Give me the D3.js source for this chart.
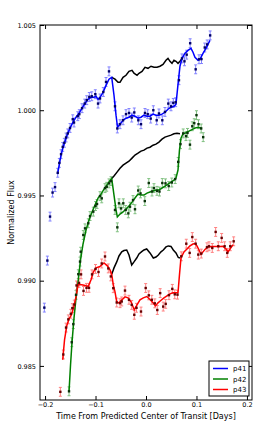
<!DOCTYPE html>
<html>
<head>
<meta charset="utf-8">
<script src="https://cdn.jsdelivr.net/npm/d3@7"></script>
<style>
  body { margin: 0; background: #fff; }
  text { font-family: "DejaVu Sans", sans-serif; }
</style>
</head>
<body>
<svg id="chart" width="266" height="426"></svg>
<script>
// observed points [time, flux]
const p41Obs = [
  [-0.2014, 0.98842], [-0.1954, 0.99118], [-0.1901, 0.99376], [-0.1851, 0.99517], [-0.1802, 0.99549],
  [-0.1749, 0.99633], [-0.1717, 0.99691], [-0.1683, 0.99742], [-0.1650, 0.99785], [-0.1618, 0.99809],
  [-0.1584, 0.99840], [-0.1550, 0.99864], [-0.1505, 0.99896], [-0.1451, 0.99947], [-0.1426, 0.99928],
  [-0.1352, 0.99965], [-0.1321, 0.99977], [-0.1267, 1.00012], [-0.1214, 1.00039], [-0.1174, 1.00059],
  [-0.1123, 1.00078], [-0.1075, 1.00082], [-0.1004, 1.00094], [-0.0950, 1.00039], [-0.0911, 1.00069],
  [-0.0846, 1.00107], [-0.0792, 1.00166], [-0.0733, 1.00228], [-0.0614, 1.00023], [-0.0568, 0.99893],
  [-0.0515, 0.99918], [-0.0455, 0.99941], [-0.0396, 0.99977], [-0.0337, 0.99984], [-0.0283, 0.99957],
  [-0.0232, 0.99987], [-0.0152, 0.99941], [-0.0099, 0.99918], [-0.0020, 0.99984], [0.0034, 0.99977],
  [0.0093, 0.99951], [0.0145, 1.00000], [0.0212, 0.99941], [0.0257, 0.99981], [0.0323, 0.99941],
  [0.0376, 0.99990], [0.0442, 1.00039], [0.0495, 1.00023], [0.0541, 1.00043], [0.0588, 1.00047],
  [0.0653, 1.00176], [0.0713, 1.00304], [0.0762, 1.00287], [0.0806, 1.00326], [0.0875, 1.00393],
  [0.0984, 1.00240], [0.1050, 1.00299], [0.1099, 1.00300], [0.1164, 1.00368], [0.1212, 1.00386],
  [0.1271, 1.00439]
];
const p42Obs = [
  [-0.1525, 0.98351], [-0.1471, 0.98639], [-0.1440, 0.98745], [-0.1386, 0.98917], [-0.1341, 0.99038],
  [-0.1307, 0.99112], [-0.1293, 0.99170], [-0.1242, 0.99268], [-0.1208, 0.99307], [-0.1143, 0.99337],
  [-0.1109, 0.99379], [-0.1044, 0.99405], [-0.1000, 0.99438], [-0.0970, 0.99450], [-0.0911, 0.99496],
  [-0.0877, 0.99483], [-0.0812, 0.99543], [-0.0778, 0.99551], [-0.0733, 0.99571], [-0.0693, 0.99584],
  [-0.0614, 0.99415], [-0.0568, 0.99313], [-0.0535, 0.99454], [-0.0495, 0.99424], [-0.0450, 0.99454],
  [-0.0402, 0.99415], [-0.0350, 0.99395], [-0.0317, 0.99434], [-0.0257, 0.99473], [-0.0218, 0.99419],
  [-0.0154, 0.99529], [-0.0109, 0.99512], [-0.0024, 0.99467], [0.0055, 0.99573], [0.0119, 0.99523],
  [0.0158, 0.99543], [0.0218, 0.99527], [0.0267, 0.99523], [0.0323, 0.99573], [0.0386, 0.99571],
  [0.0450, 0.99555], [0.0511, 0.99576], [0.0578, 0.99596], [0.0638, 0.99697], [0.0683, 0.99801],
  [0.0737, 0.99864], [0.0792, 0.99848], [0.0822, 0.99867], [0.0871, 0.99798], [0.0917, 0.99906],
  [0.0956, 0.99924], [0.1000, 0.99971], [0.1040, 0.99918], [0.1093, 0.99893], [0.1133, 0.99842]
];
const p43Obs = [
  [-0.1697, 0.98348], [-0.1638, 0.98567], [-0.1584, 0.98725], [-0.1539, 0.98773], [-0.1489, 0.98806],
  [-0.1459, 0.98839], [-0.1420, 0.98860], [-0.1376, 0.98972], [-0.1327, 0.98987], [-0.1287, 0.99037],
  [-0.1238, 0.98940], [-0.1178, 0.98958], [-0.1129, 0.98958], [-0.1069, 0.99037], [-0.1000, 0.99069],
  [-0.0941, 0.99051], [-0.0877, 0.99101], [-0.0812, 0.99142], [-0.0747, 0.99072], [-0.0697, 0.99025],
  [-0.0648, 0.98956], [-0.0580, 0.98872], [-0.0515, 0.98868], [-0.0481, 0.98878], [-0.0416, 0.98942],
  [-0.0337, 0.98888], [-0.0283, 0.98858], [-0.0232, 0.98800], [-0.0188, 0.98841], [-0.0099, 0.98819],
  [-0.0006, 0.98957], [0.0055, 0.98914], [0.0115, 0.98888], [0.0174, 0.98867], [0.0224, 0.98828],
  [0.0281, 0.98927], [0.0341, 0.98848], [0.0390, 0.98864], [0.0455, 0.98915], [0.0521, 0.98952],
  [0.0570, 0.98920], [0.0624, 0.98918], [0.0699, 0.99143], [0.0798, 0.99217], [0.0865, 0.99163],
  [0.0917, 0.99256], [0.0984, 0.99217], [0.1036, 0.99153], [0.1095, 0.99159], [0.1208, 0.99196],
  [0.1248, 0.99202], [0.1313, 0.99192], [0.1380, 0.99286], [0.1432, 0.99202], [0.1499, 0.99251],
  [0.1558, 0.99202], [0.1610, 0.99163], [0.1669, 0.99202], [0.1737, 0.99231]
];
const p41Err = 0.00026;
const p42Err = 0.00026;
const p43Err = 0.00026;

// fitted model with spot crossing
const p41Fit = [
  [-0.1752, 0.99625], [-0.1713, 0.99690], [-0.1683, 0.99737], [-0.1644, 0.99783], [-0.1604, 0.99818],
  [-0.1564, 0.99854], [-0.1505, 0.99895], [-0.1446, 0.99930], [-0.1386, 0.99959], [-0.1327, 0.99982],
  [-0.1267, 1.00012], [-0.1208, 1.00041], [-0.1149, 1.00064], [-0.1089, 1.00076], [-0.1030, 1.00076],
  [-0.0990, 1.00082], [-0.0950, 1.00064], [-0.0911, 1.00076], [-0.0851, 1.00105], [-0.0792, 1.00146],
  [-0.0733, 1.00182], [-0.0679, 1.00193], [-0.0634, 1.00088], [-0.0594, 0.99971], [-0.0564, 0.99900],
  [-0.0515, 0.99918], [-0.0455, 0.99941], [-0.0396, 0.99953], [-0.0337, 0.99959], [-0.0277, 0.99971],
  [-0.0218, 0.99965], [-0.0158, 0.99953], [-0.0099, 0.99959], [-0.0040, 0.99971], [0.0020, 0.99965],
  [0.0079, 0.99965], [0.0139, 0.99977], [0.0198, 0.99971], [0.0257, 0.99971], [0.0317, 0.99977],
  [0.0376, 0.99988], [0.0436, 1.00006], [0.0495, 1.00018], [0.0554, 1.00023], [0.0594, 1.00035],
  [0.0634, 1.00152], [0.0673, 1.00258], [0.0713, 1.00304], [0.0772, 1.00334], [0.0832, 1.00351],
  [0.0891, 1.00363], [0.0931, 1.00340], [0.0970, 1.00310], [0.1030, 1.00293], [0.1069, 1.00299],
  [0.1129, 1.00334], [0.1188, 1.00363], [0.1267, 1.00410]
];
const p42Fit = [
  [-0.1525, 0.98349], [-0.1495, 0.98507], [-0.1465, 0.98642], [-0.1426, 0.98782], [-0.1386, 0.98899],
  [-0.1341, 0.99005], [-0.1297, 0.99122], [-0.1248, 0.99215], [-0.1188, 0.99297], [-0.1129, 0.99356],
  [-0.1069, 0.99403], [-0.1010, 0.99444], [-0.0950, 0.99485], [-0.0891, 0.99508], [-0.0832, 0.99537],
  [-0.0772, 0.99561], [-0.0723, 0.99584], [-0.0679, 0.99599], [-0.0634, 0.99502], [-0.0594, 0.99415],
  [-0.0568, 0.99374], [-0.0515, 0.99391], [-0.0455, 0.99403], [-0.0396, 0.99420], [-0.0337, 0.99438],
  [-0.0277, 0.99461], [-0.0218, 0.99485], [-0.0158, 0.99508], [-0.0099, 0.99502], [-0.0040, 0.99502],
  [0.0020, 0.99514], [0.0079, 0.99520], [0.0139, 0.99526], [0.0198, 0.99532], [0.0257, 0.99532],
  [0.0317, 0.99543], [0.0376, 0.99555], [0.0436, 0.99567], [0.0495, 0.99578], [0.0554, 0.99590],
  [0.0594, 0.99602], [0.0634, 0.99649], [0.0663, 0.99766], [0.0693, 0.99836], [0.0733, 0.99862],
  [0.0792, 0.99868], [0.0851, 0.99877], [0.0911, 0.99886], [0.0970, 0.99895], [0.1030, 0.99900],
  [0.1069, 0.99898], [0.1109, 0.99893]
];
const p43Fit = [
  [-0.1650, 0.98536], [-0.1614, 0.98653], [-0.1570, 0.98735], [-0.1525, 0.98776], [-0.1471, 0.98803],
  [-0.1426, 0.98852], [-0.1386, 0.98905], [-0.1347, 0.98975], [-0.1307, 0.98978], [-0.1248, 0.98975],
  [-0.1188, 0.98970], [-0.1143, 0.98967], [-0.1089, 0.99005], [-0.1044, 0.99051], [-0.0990, 0.99075],
  [-0.0911, 0.99084], [-0.0832, 0.99104], [-0.0766, 0.99087], [-0.0713, 0.99063], [-0.0679, 0.99037],
  [-0.0648, 0.98975], [-0.0614, 0.98934], [-0.0580, 0.98876], [-0.0549, 0.98870], [-0.0515, 0.98876],
  [-0.0475, 0.98888], [-0.0416, 0.98905], [-0.0356, 0.98899], [-0.0297, 0.98876], [-0.0232, 0.98829],
  [-0.0178, 0.98858], [-0.0119, 0.98888], [-0.0053, 0.98899], [0.0014, 0.98907], [0.0079, 0.98890],
  [0.0139, 0.98870], [0.0188, 0.98852], [0.0238, 0.98870], [0.0287, 0.98882], [0.0356, 0.98899],
  [0.0416, 0.98911], [0.0475, 0.98923], [0.0535, 0.98929], [0.0584, 0.98929], [0.0634, 0.98929],
  [0.0663, 0.99034], [0.0693, 0.99133], [0.0752, 0.99169], [0.0812, 0.99186], [0.0871, 0.99204],
  [0.0931, 0.99215], [0.0970, 0.99218], [0.1010, 0.99204], [0.1050, 0.99180], [0.1089, 0.99154],
  [0.1129, 0.99169], [0.1168, 0.99183], [0.1228, 0.99198], [0.1307, 0.99201], [0.1386, 0.99201],
  [0.1465, 0.99201], [0.1525, 0.99202], [0.1584, 0.99186], [0.1624, 0.99169], [0.1663, 0.99186],
  [0.1723, 0.99211]
];

// model without the spot (black curves)
const p41NoSpot = [
  [-0.0679, 1.00193], [-0.0614, 1.00182], [-0.0554, 1.00164], [-0.0515, 1.00164], [-0.0455, 1.00193],
  [-0.0396, 1.00205], [-0.0337, 1.00228], [-0.0277, 1.00234], [-0.0238, 1.00217], [-0.0178, 1.00205],
  [-0.0139, 1.00217], [-0.0079, 1.00228], [-0.0020, 1.00252], [0.0040, 1.00246], [0.0099, 1.00258],
  [0.0158, 1.00252], [0.0218, 1.00252], [0.0277, 1.00258], [0.0337, 1.00269], [0.0396, 1.00293],
  [0.0436, 1.00304], [0.0475, 1.00287], [0.0515, 1.00275], [0.0554, 1.00293], [0.0594, 1.00287],
  [0.0634, 1.00275], [0.0673, 1.00287], [0.0713, 1.00304]
];
const p42NoSpot = [
  [-0.0679, 0.99599], [-0.0634, 0.99614], [-0.0574, 0.99637], [-0.0515, 0.99660], [-0.0455, 0.99678],
  [-0.0396, 0.99690], [-0.0337, 0.99701], [-0.0277, 0.99719], [-0.0218, 0.99737], [-0.0158, 0.99748],
  [-0.0099, 0.99760], [-0.0040, 0.99766], [0.0020, 0.99778], [0.0079, 0.99783], [0.0139, 0.99795],
  [0.0198, 0.99801], [0.0257, 0.99813], [0.0317, 0.99830], [0.0376, 0.99842], [0.0436, 0.99848],
  [0.0495, 0.99854], [0.0554, 0.99862], [0.0614, 0.99865], [0.0673, 0.99862]
];
const p43NoSpot = [
  [-0.0679, 0.99037], [-0.0634, 0.99075], [-0.0580, 0.99110], [-0.0535, 0.99145], [-0.0481, 0.99169],
  [-0.0436, 0.99177], [-0.0382, 0.99180], [-0.0337, 0.99151], [-0.0283, 0.99092], [-0.0238, 0.99110],
  [-0.0184, 0.99133], [-0.0139, 0.99157], [-0.0085, 0.99170], [-0.0040, 0.99180], [0.0014, 0.99186],
  [0.0079, 0.99163], [0.0145, 0.99133], [0.0198, 0.99139], [0.0244, 0.99151], [0.0297, 0.99169],
  [0.0343, 0.99180], [0.0396, 0.99198], [0.0442, 0.99204], [0.0495, 0.99201], [0.0541, 0.99180],
  [0.0594, 0.99163], [0.0640, 0.99136], [0.0673, 0.99133]
];

const xTicks = [-0.2, -0.1, 0.0, 0.1, 0.2];
const yTicks = [0.985, 0.990, 0.995, 1.000, 1.005];
const seriesNames = ["p41", "p42", "p43"];

const series = [
  { name: "p41", obs: p41Obs, err: p41Err, fit: p41Fit, nospot: p41NoSpot,
    line: "#0000ff", bar: "#8080ff", dot: "#000066" },
  { name: "p42", obs: p42Obs, err: p42Err, fit: p42Fit, nospot: p42NoSpot,
    line: "#008000", bar: "#80c080", dot: "#0a330a" },
  { name: "p43", obs: p43Obs, err: p43Err, fit: p43Fit, nospot: p43NoSpot,
    line: "#ff0000", bar: "#ff8080", dot: "#660000" }
];

const margin = { left: 40, right: 14, top: 25, bottom: 26 };
const W = 266, H = 426;
const svg = d3.select("#chart");

const x = d3.scaleLinear().domain([-0.21, 0.21]).range([margin.left, W - margin.right]);
const y = d3.scaleLinear().domain([0.983, 1.005]).range([H - margin.bottom, margin.top]);

const line = d3.line().x(d => x(d[0])).y(d => y(d[1]));

const plot = svg.append("g");

series.forEach(s => {
  // error bars
  const eb = plot.append("g").attr("stroke", s.bar).attr("stroke-width", 1);
  s.obs.forEach(d => {
    const cx = x(d[0]), y0 = y(d[1] - s.err), y1 = y(d[1] + s.err);
    eb.append("line").attr("x1", cx).attr("x2", cx).attr("y1", y0).attr("y2", y1);
    eb.append("line").attr("x1", cx - 1.5).attr("x2", cx + 1.5).attr("y1", y0).attr("y2", y0);
    eb.append("line").attr("x1", cx - 1.5).attr("x2", cx + 1.5).attr("y1", y1).attr("y2", y1);
  });
});

series.forEach(s => {
  plot.append("path").datum(s.nospot)
    .attr("fill", "none").attr("stroke", "#000").attr("stroke-width", 1.5)
    .attr("d", line);
  plot.append("path").datum(s.fit)
    .attr("fill", "none").attr("stroke", s.line).attr("stroke-width", 1.5)
    .attr("d", line);
});

series.forEach(s => {
  plot.append("g").selectAll("rect").data(s.obs).enter().append("rect")
    .attr("x", d => x(d[0]) - 1.2).attr("y", d => y(d[1]) - 1.2)
    .attr("width", 2.4).attr("height", 2.4)
    .attr("fill", s.dot);
});

// axes with inward ticks on all four sides
const fmtX = d3.format(".1f");
const fmtY = d3.format(".3f");
const axB = svg.append("g").attr("transform", `translate(0,${H - margin.bottom})`)
  .call(d3.axisBottom(x).tickValues(xTicks).tickFormat(fmtX).tickSizeInner(-4).tickSizeOuter(0).tickPadding(2));
const axL = svg.append("g").attr("transform", `translate(${margin.left},0)`)
  .call(d3.axisLeft(y).tickValues(yTicks).tickFormat(fmtY).tickSizeInner(-4).tickSizeOuter(0).tickPadding(4));
const axT = svg.append("g").attr("transform", `translate(0,${margin.top})`)
  .call(d3.axisTop(x).tickValues(xTicks).tickFormat("").tickSizeInner(-4).tickSizeOuter(0));
const axR = svg.append("g").attr("transform", `translate(${W - margin.right},0)`)
  .call(d3.axisRight(y).tickValues(yTicks).tickFormat("").tickSizeInner(-4).tickSizeOuter(0));

[axB, axL, axT, axR].forEach(a => {
  a.select(".domain").remove();
  a.selectAll("text").attr("font-size", 6.5).attr("fill", "#000")
    .attr("font-family", "DejaVu Sans, sans-serif");
  a.selectAll(".tick line").attr("stroke", "#000");
});

svg.append("rect")
  .attr("x", margin.left).attr("y", margin.top)
  .attr("width", W - margin.left - margin.right)
  .attr("height", H - margin.top - margin.bottom)
  .attr("fill", "none").attr("stroke", "#000").attr("stroke-width", 1);

// axis labels
svg.append("text")
  .attr("x", (margin.left + W - margin.right) / 2).attr("y", 419)
  .attr("text-anchor", "middle").attr("font-size", 8)
  .text("Time From Predicted Center of Transit [Days]");
svg.append("text")
  .attr("transform", `translate(14,${(margin.top + H - margin.bottom) / 2}) rotate(-90)`)
  .attr("text-anchor", "middle").attr("font-size", 8)
  .text("Normalized Flux");

// legend
const lg = svg.append("g").attr("transform", "translate(209,361)");
lg.append("rect").attr("width", 40).attr("height", 35)
  .attr("fill", "#fff").attr("stroke", "#000").attr("stroke-width", 1);
series.forEach((s, i) => {
  const ly = 7.5 + i * 10.5;
  lg.append("line").attr("x1", 4).attr("x2", 19).attr("y1", ly).attr("y2", ly)
    .attr("stroke", s.line).attr("stroke-width", 1.5);
  lg.append("text").attr("x", 24).attr("y", ly + 2.5).attr("font-size", 7)
    .text(seriesNames[i]);
});
</script>
</body>
</html>
